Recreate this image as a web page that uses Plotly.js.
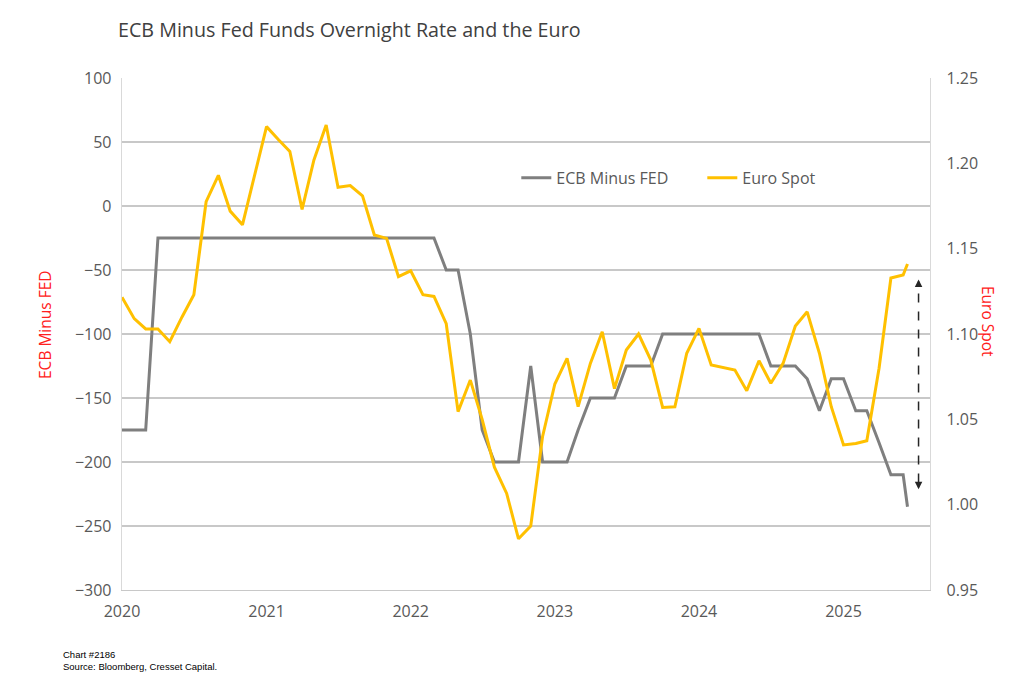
<!DOCTYPE html>
<html>
<head>
<meta charset="utf-8">
<script src="https://cdn.plot.ly/plotly-3.0.1.min.js"></script>
<style>html,body{margin:0;padding:0;background:#fff;}#chart{width:1024px;height:696px;}</style>
</head>
<body>
<div id="chart"></div>
<script>
// Monthly observation dates (last point is a partial month)
const dates = [
 '2020-01','2020-02','2020-03','2020-04','2020-05','2020-06','2020-07','2020-08','2020-09','2020-10','2020-11','2020-12',
 '2021-01','2021-02','2021-03','2021-04','2021-05','2021-06','2021-07','2021-08','2021-09','2021-10','2021-11','2021-12',
 '2022-01','2022-02','2022-03','2022-04','2022-05','2022-06','2022-07','2022-08','2022-09','2022-10','2022-11','2022-12',
 '2023-01','2023-02','2023-03','2023-04','2023-05','2023-06','2023-07','2023-08','2023-09','2023-10','2023-11','2023-12',
 '2024-01','2024-02','2024-03','2024-04','2024-05','2024-06','2024-07','2024-08','2024-09','2024-10','2024-11','2024-12',
 '2025-01','2025-02','2025-03','2025-04','2025-05','2025-06','2025-06-12'
];

// ECB minus Fed funds overnight rate (bp)
const ecbMinusFed = [
 -175,-175,-175,-25,-25,-25,-25,-25,-25,-25,-25,-25,
 -25,-25,-25,-25,-25,-25,-25,-25,-25,-25,-25,-25,
 -25,-25,-25,-50,-50,-100,-175,-200,-200,-200,-125,-200,
 -200,-200,-175,-150,-150,-150,-125,-125,-125,-100,-100,-100,
 -100,-100,-100,-100,-100,-100,-125,-125,-125,-135,-160,-135,
 -135,-160,-160,-185,-210,-210,-235
];

// EUR/USD spot
const euroSpot = [
 1.1215,1.109,1.103,1.103,1.0955,1.110,1.123,1.1775,1.193,1.172,1.164,1.192,
 1.2215,1.2137,1.207,1.173,1.202,1.2225,1.186,1.187,1.181,1.158,1.156,1.1336,
 1.137,1.123,1.122,1.106,1.0545,1.073,1.050,1.022,1.0066,0.980,0.9875,1.040,
 1.0707,1.0857,1.0574,1.0828,1.1013,1.068,1.0906,1.100,1.0847,1.057,1.0574,1.0887,
 1.1033,1.0818,1.0802,1.0789,1.0668,1.0843,1.0711,1.0828,1.1047,1.113,1.0887,1.0574,
 1.035,1.0359,1.0375,1.0799,1.1328,1.1346,1.141
];

const leftTicks = [100,50,0,-50,-100,-150,-200,-250,-300];
const rightTicks = [1.25,1.20,1.15,1.10,1.05,1.00,0.95];
const rightTickText = ['1.25','1.20','1.15','1.10','1.05','1.00','0.95'];
const yearTicks = ['2020-01-01','2021-01-01','2022-01-01','2023-01-01','2024-01-01','2025-01-01'];
const yearLabels = ['2020','2021','2022','2023','2024','2025'];

// Dashed double-headed arrow (annotation)
const arrowDate = '2025-07-10';
const arrowRange = [1.009, 1.132];

const tickFont = {family: 'Open Sans, sans-serif', size: 16, color: '#595959'};

const traces = [
 {x: dates, y: ecbMinusFed, name: 'ECB Minus FED', type: 'scatter', mode: 'lines',
  line: {color: '#7f7f7f', width: 3}, yaxis: 'y'},
 {x: dates, y: euroSpot, name: 'Euro Spot', type: 'scatter', mode: 'lines',
  line: {color: '#ffc000', width: 3}, yaxis: 'y2'}
];

const layout = {
 width: 1024, height: 696,
 margin: {l: 122, r: 94, t: 78, b: 106},
 paper_bgcolor: '#ffffff', plot_bgcolor: '#ffffff',
 title: {text: 'ECB Minus Fed Funds Overnight Rate and the Euro',
  font: {family: 'Open Sans, sans-serif', size: 19.7, color: '#404040'},
  xref: 'container', yref: 'container', x: 118/1024, xanchor: 'left', y: 1 - 30/696, yanchor: 'middle'},
 showlegend: true,
 legend: {orientation: 'h', x: 0.488, xanchor: 'left', y: 0.805, yanchor: 'middle',
  entrywidth: 141, entrywidthmode: 'pixels',
  font: {family: 'Open Sans, sans-serif', size: 16, color: '#595959'}, bgcolor: 'rgba(0,0,0,0)'},
 xaxis: {type: 'date', range: ['2020-01-01', '2025-08-08'],
  tickmode: 'array', tickvals: yearTicks, ticktext: yearLabels,
  showgrid: false, zeroline: false, showline: true, linecolor: '#c8c8c8', linewidth: 1.3,
  ticks: '', tickfont: tickFont, ticklabelstandoff: 6},
 yaxis: {range: [-300, 100], tickmode: 'array', tickvals: leftTicks,
  showgrid: true, gridcolor: '#c8c8c8', gridwidth: 1.3, zeroline: false,
  showline: true, linecolor: '#d9d9d9', linewidth: 1.3, ticks: '', tickfont: tickFont, ticklabelstandoff: 6},
 yaxis2: {range: [0.95, 1.25], overlaying: 'y', side: 'right', tickmode: 'array',
  tickvals: rightTicks, ticktext: rightTickText, showgrid: false, zeroline: false,
  showline: true, linecolor: '#d9d9d9', linewidth: 1.3, ticks: '', tickfont: tickFont, ticklabelstandoff: 12},
 shapes: [
  {type: 'line', xref: 'x', yref: 'y2', x0: arrowDate, x1: arrowDate, y0: arrowRange[0] + 0.004, y1: arrowRange[1] - 0.004,
   line: {color: '#262626', width: 1.5, dash: 'dash'}}
 ],
 annotations: [
  {text: 'ECB Minus FED', textangle: -90, xref: 'paper', yref: 'paper', x: (45 - 122) / 808, y: (590 - 325) / 512,
   xanchor: 'center', yanchor: 'middle', showarrow: false,
   font: {family: 'Open Sans, sans-serif', size: 15.5, color: '#ff2020'}},
  {text: 'Euro Spot', textangle: 90, xref: 'paper', yref: 'paper', x: (988 - 122) / 808, y: (590 - 321) / 512,
   xanchor: 'center', yanchor: 'middle', showarrow: false,
   font: {family: 'Open Sans, sans-serif', size: 15.5, color: '#ff2020'}},
  {text: 'Chart #2186<br>Source: Bloomberg, Cresset Capital.', align: 'left', xref: 'paper', yref: 'paper',
   x: (61 - 122) / 808, y: (590 - 660.5) / 512, xanchor: 'left', yanchor: 'middle', showarrow: false,
   font: {family: 'Liberation Sans, Arial, sans-serif', size: 9.5, color: '#000000'}},
  {text: '', xref: 'x', yref: 'y2', x: arrowDate, y: arrowRange[1], showarrow: true, arrowhead: 2,
   arrowsize: 1, arrowwidth: 1.5, arrowcolor: '#262626', ax: 0, ay: 8},
  {text: '', xref: 'x', yref: 'y2', x: arrowDate, y: arrowRange[0], showarrow: true, arrowhead: 2,
   arrowsize: 1, arrowwidth: 1.5, arrowcolor: '#262626', ax: 0, ay: -8}
 ]
};

Plotly.newPlot('chart', traces, layout, {displayModeBar: false, staticPlot: true});
</script>
</body>
</html>
